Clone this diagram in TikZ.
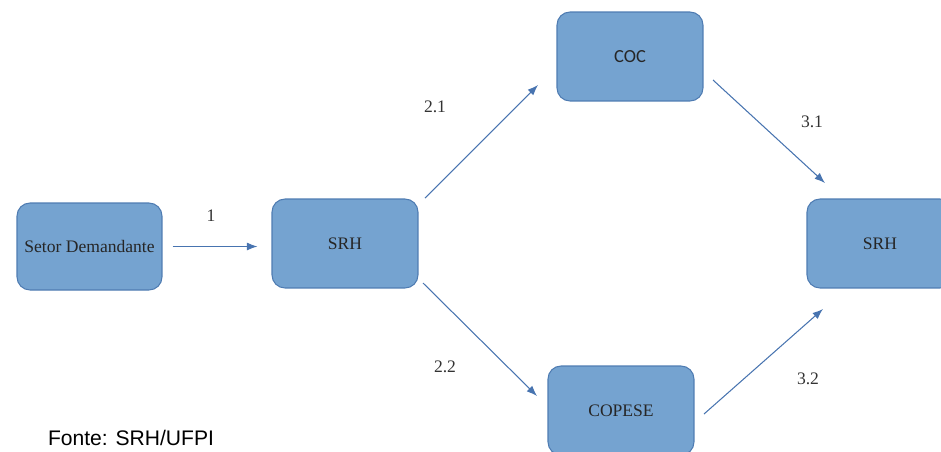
\documentclass[tikz,border=0pt]{standalone}
\usepackage{fontspec}
\setmainfont{Liberation Serif}
\newfontfamily\cocfont{Carlito}
\newfontfamily\fontefont{Liberation Sans}
\usetikzlibrary{arrows.meta}
\definecolor{boxfill}{RGB}{117,163,208}
\definecolor{boxline}{RGB}{79,124,178}
\definecolor{arrowblue}{RGB}{72,116,176}
\newcommand{\boxw}{2.92cm}
\newcommand{\boxh}{1.78cm}

\begin{document}
\begin{tikzpicture}[x=.02cm,y=-.02cm,
    setor/.style={draw=boxline, fill=boxfill, rounded corners=.26cm, line width=.6pt,
      minimum width=\boxw, minimum height=\boxh, inner sep=0pt, text=black!85,
      font=\fontsize{10}{12}\selectfont},
    flow/.style={draw=arrowblue, line width=.6pt, -{Latex[length=6pt,width=4.5pt]}},
    lbl/.style={text=black!80, font=\fontsize{10}{12}\selectfont}]
      \useasboundingbox (0,0) rectangle (941,451);
          %% the setores, left to right
      \node (dem) at (89.5,246.5) [setor, minimum width=2.9cm, minimum height=1.74cm] {Setor Demandante};
      \node (srh1) at (345,243.5) [setor] {SRH};
      \node (coc) at (630,56.5) [setor, font=\cocfont\fontsize{10.5}{12}\selectfont] {COC};
      \node (copese) at (621,410.5) [setor] {COPESE};
      \node (srh2) at (880,243.5) [setor] {SRH};
      \coordinate (a21) at (425,198);
      \coordinate (b21) at (538,85);
      \coordinate (a22) at (423,283);
      \coordinate (b22) at (537,396);
      \coordinate (a31) at (713,80);
      \coordinate (b31) at (825,183);
      \coordinate (a32) at (704,414);
      \coordinate (b32) at (823,309);
      \draw[flow, shorten <=.2cm, shorten >=.28cm] (dem.east) to (dem.east -| srh1.west);
      \draw[flow] (a21) to (b21);
      \draw[flow] (a22) to (b22);
      \draw[flow] (a31) to (b31);
      \draw[flow] (a32) to (b32);
      \node (l1) at (211,216) [lbl] {1};
      \node (l21) at (435,107) [lbl] {2.1};
      \node (l22) at (445,367) [lbl] {2.2};
      \node (l31) at (812,122) [lbl] {3.1};
      \node (l32) at (808,379) [lbl] {3.2};

      \node (fonte) at (131,438) [font=\fontefont\fontsize{12}{14}\selectfont] {Fonte: SRH/UFPI};
\end{tikzpicture}
\end{document}
